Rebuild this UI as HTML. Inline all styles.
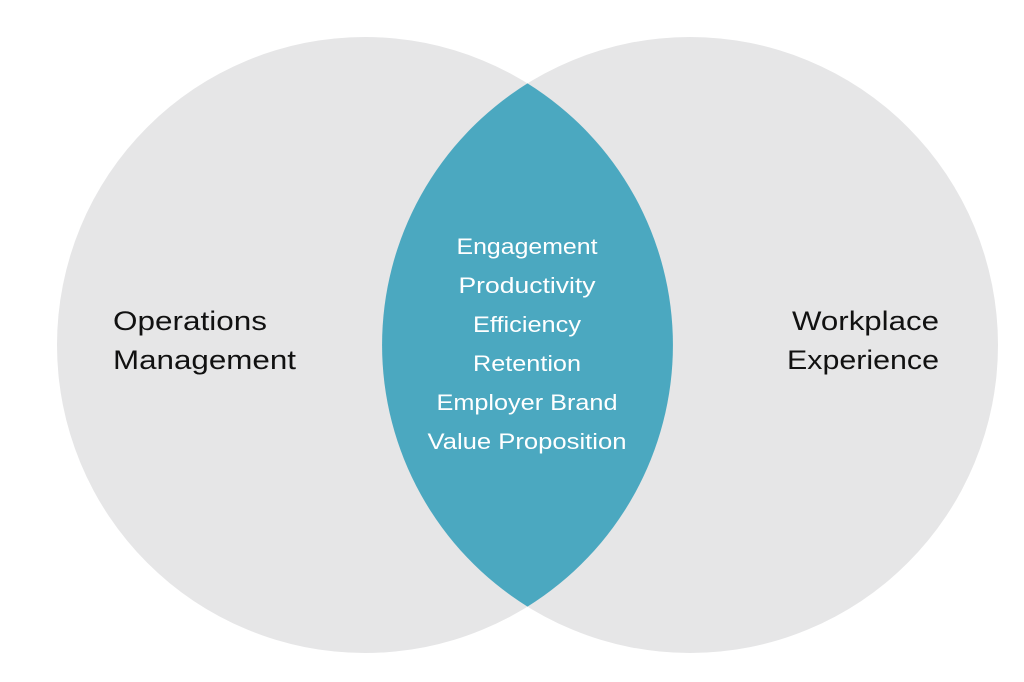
<!DOCTYPE html>
<html><head><meta charset="utf-8"><style>
html,body{margin:0;padding:0;background:#fff;}
svg{display:block;}
text{font-family:"Liberation Sans",sans-serif;}
</style></head><body>
<svg width="1024" height="682" viewBox="0 0 1024 682" xmlns="http://www.w3.org/2000/svg">
<rect width="1024" height="682" fill="#fff"/>
<circle cx="365" cy="345" r="308" fill="#e6e6e7"/>
<circle cx="690" cy="345" r="308" fill="#e6e6e7"/>
<path d="M527.5,83.4 A308,308 0 0 1 527.5,606.6 A308,308 0 0 1 527.5,83.4 Z" fill="#4ba8c0"/>
<g fill="#fff" font-size="22" text-anchor="middle">
<text x="527" y="254" textLength="141" lengthAdjust="spacingAndGlyphs">Engagement</text>
<text x="527" y="293" textLength="137" lengthAdjust="spacingAndGlyphs">Productivity</text>
<text x="527" y="332" textLength="108" lengthAdjust="spacingAndGlyphs">Efficiency</text>
<text x="527" y="371" textLength="108" lengthAdjust="spacingAndGlyphs">Retention</text>
<text x="527" y="410" textLength="181" lengthAdjust="spacingAndGlyphs">Employer Brand</text>
<text x="527" y="449" textLength="199" lengthAdjust="spacingAndGlyphs">Value Proposition</text>
</g>
<g fill="#111" font-size="27">
<text x="113" y="330" textLength="154" lengthAdjust="spacingAndGlyphs">Operations</text>
<text x="113" y="369" textLength="183" lengthAdjust="spacingAndGlyphs">Management</text>
<text x="792" y="330" textLength="147" lengthAdjust="spacingAndGlyphs">Workplace</text>
<text x="787" y="369" textLength="152" lengthAdjust="spacingAndGlyphs">Experience</text>
</g>
</svg>
</body></html>
